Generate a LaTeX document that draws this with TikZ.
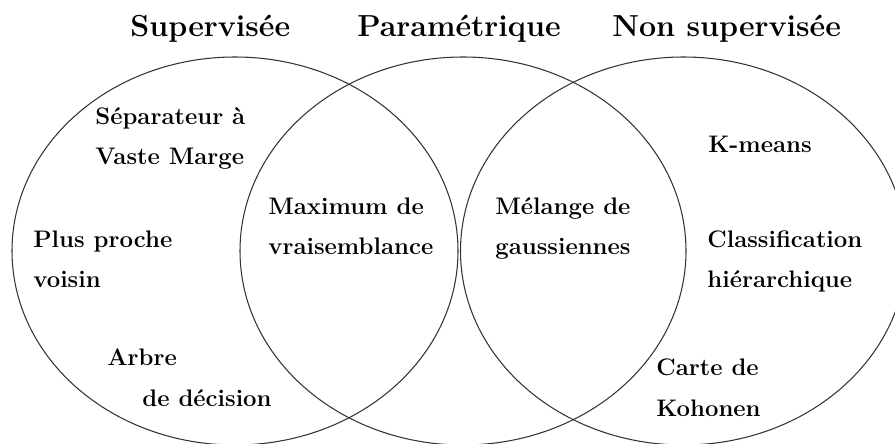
\documentclass[tikz,border=0pt]{standalone}
\usetikzlibrary{shapes.geometric}
\tikzset{set/.style = {ellipse, draw, black!80, line width=0.6pt, inner sep=0,
                       minimum width=8.92cm, minimum height=7.76cm}}
\tikzset{title/.style = {anchor=base west, inner sep=0, font=\fontsize{17.3}{20}\selectfont\bfseries}}
\tikzset{algo/.style = {anchor=base west, inner sep=0, align=left,
                        font=\fontsize{13.6}{22.8}\selectfont\bfseries}}

\begin{document}
\begin{tikzpicture}
      \useasboundingbox (0, 0) rectangle (17.9, 8.86);
      \clip (0, 0) rectangle (17.9, 8.86);
      \node [set] (sup) at (4.70, 3.84) {};
      \node [set] (param) at (9.26, 3.84) {};
      \node [set] (nonsup) at (13.67, 3.84) {};
      \node [title] (tsup) at (2.60, 8.13) {Supervisée};
      \node [title] (tparam) at (7.14, 8.13) {Paramétrique};
      \node [title] (tnonsup) at (12.24, 8.13) {Non supervisée};
      % base anchor sits on the last line
      \node [algo] (svm) at (1.90, 5.56) {Séparateur à\\Vaste Marge};
      \node [algo] (ppv) at (0.66, 3.10) {Plus proche\\voisin};
      \node [algo] (arbre) at (2.14, 0.74) {Arbre\\\hspace*{0.7cm}de décision};
      \node [algo] (mv) at (5.36, 3.76) {Maximum de\\vraisemblance};
      \node [algo] (mg) at (9.90, 3.76) {Mélange de\\gaussiennes};
      \node [algo] (kmeans) at (14.16, 5.80) {K-means};
      \node [algo] (cah) at (14.14, 3.10) {Classification\\hiérarchique};
      \node [algo] (som) at (13.12, 0.54) {Carte de\\Kohonen};
    \end{tikzpicture}
\end{document}
